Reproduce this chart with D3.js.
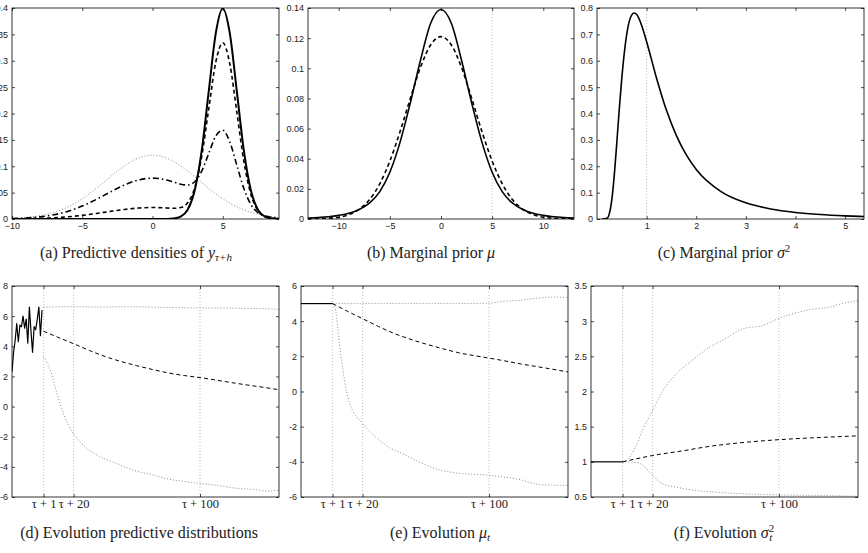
<!DOCTYPE html>
<html>
<head>
<meta charset="utf-8">
<script src="https://cdn.jsdelivr.net/npm/d3@7"></script>
<style>
  body { margin: 0; background: #fff; }
  svg { display: block; }
  .tick text { font-family: "Liberation Sans", Arial, sans-serif; font-size: 9px; fill: #222; }
  .tick line { stroke: #000; stroke-width: 0.7; }
  .caption { font-family: "Liberation Serif", "DejaVu Serif", serif; font-size: 16px; fill: #222; }
  .tau .tick text { font-family: "Liberation Serif", serif; font-size: 12.5px; }
</style>
</head>
<body>
<svg id="chart" width="868" height="553"></svg>
<script>
// (a) predictive densities of y_{tau+h}
const densX = [-10, -9, -8, -7, -6, -5, -4, -3, -2, -1, 0, 1, 1.5, 2, 2.5, 3, 3.5, 4, 4.5, 5, 5.5, 6, 6.5, 7, 7.5, 8, 8.5, 9];
const densSolid = [0, 0, 0, 0, 0, 0, 0, 0, 0, 0, 0, 0.0001, 0.0009, 0.0044, 0.0175, 0.054, 0.1295, 0.242, 0.352, 0.399, 0.352, 0.242, 0.1295, 0.054, 0.0175, 0.0044, 0.0009, 0.0001];
const densDashed = [0.0002, 0.0005, 0.0012, 0.0023, 0.0042, 0.0069, 0.0104, 0.0144, 0.0181, 0.0208, 0.0218, 0.0209, 0.0203, 0.0217, 0.0307, 0.0587, 0.1186, 0.2088, 0.2972, 0.3341, 0.294, 0.2026, 0.1093, 0.0466, 0.016, 0.0048, 0.0015, 0.0006];
const densDashDot = [0.0008, 0.0019, 0.0041, 0.0081, 0.0148, 0.0246, 0.0371, 0.0512, 0.0644, 0.074, 0.0774, 0.074, 0.0701, 0.066, 0.0644, 0.0706, 0.0907, 0.1242, 0.1572, 0.1682, 0.146, 0.1019, 0.0577, 0.0275, 0.0121, 0.0057, 0.0031, 0.0019];
const densDotted = [0.0012, 0.0029, 0.0064, 0.0127, 0.0232, 0.0384, 0.058, 0.08, 0.1007, 0.1156, 0.121, 0.1156, 0.1091, 0.1007, 0.0908, 0.08, 0.0689, 0.058, 0.0477, 0.0384, 0.0302, 0.0232, 0.0174, 0.0127, 0.0091, 0.0064, 0.0044, 0.0029];
const densXTicks = [-10, -5, 0, 5];
const densYTicks = [0, 0.05, 0.1, 0.15, 0.2, 0.25, 0.3, 0.35, 0.4];

// (b) marginal prior mu
const muX = [-13, -12, -11, -10, -9, -8, -7, -6, -5, -4, -3, -2, -1, 0, 1, 2, 3, 4, 5, 6, 7, 8, 9, 10, 11, 12, 13];
const muSolid = [0.0007, 0.001, 0.0015, 0.0024, 0.0038, 0.0063, 0.0105, 0.018, 0.031, 0.051, 0.077, 0.1055, 0.13, 0.139, 0.13, 0.1055, 0.077, 0.051, 0.031, 0.018, 0.0105, 0.0063, 0.0038, 0.0024, 0.0015, 0.001, 0.0007];
const muDashed = [0.0001, 0.0002, 0.0005, 0.0012, 0.0029, 0.0064, 0.0127, 0.0232, 0.0384, 0.058, 0.08, 0.1007, 0.1156, 0.121, 0.1156, 0.1007, 0.08, 0.058, 0.0384, 0.0232, 0.0127, 0.0064, 0.0029, 0.0012, 0.0005, 0.0002, 0.0001];
const muXTicks = [-10, -5, 0, 5, 10];
const muYTicks = [0, 0.02, 0.04, 0.06, 0.08, 0.1, 0.12, 0.14];

// (c) marginal prior sigma^2
const sigX = [0.1, 0.2, 0.25, 0.3, 0.35, 0.4, 0.45, 0.5, 0.6, 0.7, 0.75, 0.8, 0.9, 1, 1.2, 1.4, 1.6, 1.8, 2, 2.5, 3, 3.5, 4, 4.5, 5, 5.4];
const sigDens = [0, 0.0026, 0.0212, 0.0757, 0.17, 0.292, 0.419, 0.535, 0.702, 0.774, 0.781, 0.775, 0.734, 0.672, 0.534, 0.412, 0.316, 0.243, 0.188, 0.104, 0.0613, 0.0382, 0.0249, 0.0169, 0.0119, 0.0091];
const sigXTicks = [1, 2, 3, 4, 5];
const sigYTicks = [0, 0.1, 0.2, 0.3, 0.4, 0.5, 0.6, 0.7, 0.8];

// (d) evolution predictive distributions (tau = 20)
const histT = [1, 2, 3, 4, 5, 6, 7, 8, 9, 10, 11, 12, 13, 14, 15, 16, 17, 18, 19, 20];
const histY = [2.3, 3.6, 4.4, 5.5, 4.3, 5.4, 5.3, 6.0, 5.2, 5.8, 4.2, 6.6, 5.0, 3.6, 5.3, 5.1, 5.8, 6.6, 4.7, 6.4];
const predUpT = [21, 30, 40, 50, 60, 70, 80, 90, 100, 110, 120, 130, 140, 150, 160, 170];
const predUp = [6.6, 6.62, 6.63, 6.61, 6.6, 6.62, 6.62, 6.6, 6.58, 6.56, 6.55, 6.54, 6.53, 6.51, 6.5, 6.45];
const meanT = [21, 30, 40, 50, 60, 70, 80, 90, 100, 110, 120, 130, 140, 150, 160, 170];
const predMean = [5.0, 4.6, 4.17, 3.72, 3.32, 2.99, 2.71, 2.46, 2.23, 2.06, 1.92, 1.76, 1.59, 1.43, 1.28, 1.12];
const predLowT = [21, 25.6, 29.8, 34, 40, 48.8, 57.2, 67.8, 78.3, 88.8, 99.4, 109.9, 120, 131, 141.5, 154, 162.6, 170];
const predLow = [3.3, 2.3, 0.74, -0.58, -1.8, -2.8, -3.35, -3.8, -4.24, -4.5, -4.8, -4.97, -5.1, -5.23, -5.4, -5.5, -5.6, -5.55];
const predYTicks = [-6, -4, -2, 0, 2, 4, 6, 8];

// (e) evolution mu_t
const muHistT = [1, 21];
const muHist = [5, 5];
const muUpT = [21, 40, 60, 80, 100, 120, 129.4, 139, 149.5, 160, 170];
const muUp = [5.0, 5.0, 5.0, 5.0, 5.0, 5.02, 5.13, 5.18, 5.3, 5.37, 5.35];
const muMean = [5.0, 4.58, 4.14, 3.7, 3.3, 2.98, 2.7, 2.45, 2.22, 2.05, 1.9, 1.74, 1.57, 1.42, 1.27, 1.11];
const muLowT = [21, 23.1, 25.2, 28.4, 31.5, 40, 48.4, 54.7, 65.2, 75.8, 86.3, 96.8, 120, 139, 152.7, 170];
const muLow = [5.0, 4.52, 2.81, 0.73, -0.6, -1.83, -2.59, -3.06, -3.54, -4.0, -4.4, -4.6, -4.77, -5.0, -5.3, -5.34];
const muEvoYTicks = [-6, -4, -2, 0, 2, 4, 6];

// (f) evolution sigma_t^2
const sigHist = [1, 1];
const sigUpT = [21, 26, 30, 34, 40, 46, 55, 65, 76, 86, 97, 110, 120, 139, 152, 160, 170];
const sigUp = [1.0, 1.08, 1.25, 1.47, 1.73, 1.99, 2.25, 2.44, 2.63, 2.75, 2.89, 2.94, 3.04, 3.16, 3.2, 3.25, 3.29];
const sigMeanT = [21, 40, 60, 76, 100, 120, 140, 160, 170];
const sigMean = [1.0, 1.09, 1.16, 1.22, 1.28, 1.315, 1.34, 1.36, 1.37];
const sigLowT = [21, 30, 34, 40, 46, 55, 65, 86, 120, 150, 170];
const sigLow = [1.0, 0.99, 0.95, 0.81, 0.69, 0.64, 0.6, 0.56, 0.53, 0.52, 0.51];
const sigEvoYTicks = [0.5, 1, 1.5, 2, 2.5, 3, 3.5];

const tauTicks = [21, 40, 120];
const tauLabels = ["τ + 1", "τ + 20", "τ + 100"];

const svg = d3.select("#chart");

const STYLE = {
  solid:   { stroke: "#000", width: 1.6, dash: null },
  solidT:  { stroke: "#000", width: 2, dash: null },
  dashed:  { stroke: "#000", width: 1.6, dash: "4,3" },
  dashdot: { stroke: "#000", width: 1.6, dash: "6,3,1.5,3" },
  dotted:  { stroke: "#8a8a8a", width: 1, dash: "1,2" },
  thinDash:{ stroke: "#000", width: 1, dash: "4,3" },
  thin:    { stroke: "#000", width: 1.2, dash: null }
};

let clipId = 0;
function panel(o) {
  const w = o.x1 - o.x0, h = o.y1 - o.y0;
  const g = svg.append("g").attr("transform", `translate(${o.x0},${o.y0})`);
  const x = d3.scaleLinear().domain(o.xDomain).range([0, w]);
  const y = d3.scaleLinear().domain(o.yDomain).range([h, 0]);

  const id = "clip" + (clipId++);
  g.append("clipPath").attr("id", id).append("rect").attr("width", w).attr("height", h);

  // vertical dotted guides
  g.selectAll("line.guide").data(o.guides || []).join("line")
    .attr("class", "guide")
    .attr("x1", d => x(d)).attr("x2", d => x(d))
    .attr("y1", 0).attr("y2", h)
    .attr("stroke", "#aaa").attr("stroke-width", 0.8).attr("stroke-dasharray", "1,2");

  const plot = g.append("g").attr("clip-path", `url(#${id})`);
  for (const s of o.series) {
    const st = STYLE[s.style];
    const line = d3.line()
      .x((d, i) => x(s.x[i]))
      .y(d => y(d))
      .curve(s.linear ? d3.curveLinear : d3.curveMonotoneX);
    plot.append("path")
      .attr("d", line(s.y))
      .attr("fill", "none")
      .attr("stroke", st.stroke)
      .attr("stroke-width", st.width)
      .attr("stroke-dasharray", st.dash)
      .attr("stroke-linejoin", "round");
  }

  const fmt = o.fmt || (d => String(d).replace("-", "\u2212"));
  const xAxis = d3.axisBottom(x).tickValues(o.xTicks).tickSizeInner(-3).tickSizeOuter(0).tickPadding(4);
  if (o.xLabels) xAxis.tickFormat((d, i) => o.xLabels[i]).tickPadding(2);
  else xAxis.tickFormat(fmt);
  const gx = g.append("g").attr("transform", `translate(0,${h})`).call(xAxis);
  if (o.xLabels) gx.classed("tau", true);

  g.append("g").call(d3.axisLeft(y).tickValues(o.yTicks).tickSizeInner(-3).tickSizeOuter(0).tickPadding(4).tickFormat(o.yFmt || fmt));
  g.append("g").call(d3.axisTop(x).tickValues(o.xTicks).tickSizeInner(-3).tickSizeOuter(0).tickFormat(""));
  g.append("g").attr("transform", `translate(${w},0)`)
    .call(d3.axisRight(y).tickValues(o.yTicks).tickSizeInner(-3).tickSizeOuter(0).tickFormat(""));
  g.selectAll(".domain").remove();

  g.append("rect").attr("width", w).attr("height", h)
    .attr("fill", "none").attr("stroke", "#000").attr("stroke-width", 0.8);
}

function caption(cx, cy, parts) {
  const t = svg.append("text").attr("class", "caption").attr("x", cx).attr("y", cy).attr("text-anchor", "middle");
  for (const p of parts) {
    const s = t.append("tspan").text(p.t);
    if (p.it) s.attr("font-style", "italic");
    if (p.sub) s.attr("font-size", "11px").attr("dy", p.dy || 3);
    if (p.sup) s.attr("font-size", "11px").attr("dy", p.dy || -6);
    if (p.dx) s.attr("dx", p.dx);
  }
}

const hyph = d => String(d);

panel({ x0: 12, x1: 279, y0: 8, y1: 219, xDomain: [-10, 9], yDomain: [0, 0.4],
  xTicks: densXTicks, yTicks: densYTicks,
  series: [
    { x: densX, y: densDotted, style: "dotted" },
    { x: densX, y: densDashDot, style: "dashdot" },
    { x: densX, y: densDashed, style: "dashed" },
    { x: densX, y: densSolid, style: "solidT" }
  ] });

panel({ x0: 308, x1: 574, y0: 8, y1: 219, xDomain: [-13, 13], yDomain: [0, 0.14],
  xTicks: muXTicks, yTicks: muYTicks, guides: [5],
  series: [
    { x: muX, y: muDashed, style: "dashed" },
    { x: muX, y: muSolid, style: "solid" }
  ] });

panel({ x0: 597, x1: 864, y0: 8, y1: 219, xDomain: [0, 5.38], yDomain: [0, 0.8],
  xTicks: sigXTicks, yTicks: sigYTicks, guides: [1],
  series: [ { x: sigX, y: sigDens, style: "solid" } ] });

panel({ x0: 12, x1: 279, y0: 286, y1: 497, xDomain: [1, 170], yDomain: [-6, 8],
  xTicks: tauTicks, xLabels: tauLabels, yTicks: predYTicks, yFmt: hyph, guides: tauTicks,
  series: [
    { x: predUpT, y: predUp, style: "dotted" },
    { x: predLowT, y: predLow, style: "dotted" },
    { x: meanT, y: predMean, style: "thinDash" },
    { x: histT, y: histY, style: "thin", linear: true }
  ] });

panel({ x0: 301, x1: 568, y0: 286, y1: 497, xDomain: [1, 170], yDomain: [-6, 6],
  xTicks: tauTicks, xLabels: tauLabels, yTicks: muEvoYTicks, yFmt: hyph, guides: tauTicks,
  series: [
    { x: muUpT, y: muUp, style: "dotted" },
    { x: muLowT, y: muLow, style: "dotted" },
    { x: meanT, y: muMean, style: "thinDash" },
    { x: muHistT, y: muHist, style: "thin", linear: true }
  ] });

panel({ x0: 591, x1: 858, y0: 286, y1: 497, xDomain: [1, 170], yDomain: [0.5, 3.5],
  xTicks: tauTicks, xLabels: tauLabels, yTicks: sigEvoYTicks, yFmt: hyph, guides: tauTicks,
  series: [
    { x: sigUpT, y: sigUp, style: "dotted" },
    { x: sigLowT, y: sigLow, style: "dotted" },
    { x: sigMeanT, y: sigMean, style: "thinDash" },
    { x: muHistT, y: sigHist, style: "thin", linear: true }
  ] });

caption(136, 258, [{ t: "(a) Predictive densities of " }, { t: "y", it: true }, { t: "τ+h", it: true, sub: true }]);
caption(431, 258, [{ t: "(b) Marginal prior " }, { t: "μ", it: true }]);
caption(724, 258, [{ t: "(c) Marginal prior " }, { t: "σ", it: true }, { t: "2", sup: true }]);
caption(139, 538, [{ t: "(d) Evolution predictive distributions" }]);
caption(440, 538, [{ t: "(e) Evolution " }, { t: "μ", it: true }, { t: "t", it: true, sub: true }]);
caption(724, 538, [{ t: "(f) Evolution " }, { t: "σ", it: true }, { t: "2", sup: true }, { t: "t", it: true, sub: true, dx: -5, dy: 9 }]);
</script>
</body>
</html>
